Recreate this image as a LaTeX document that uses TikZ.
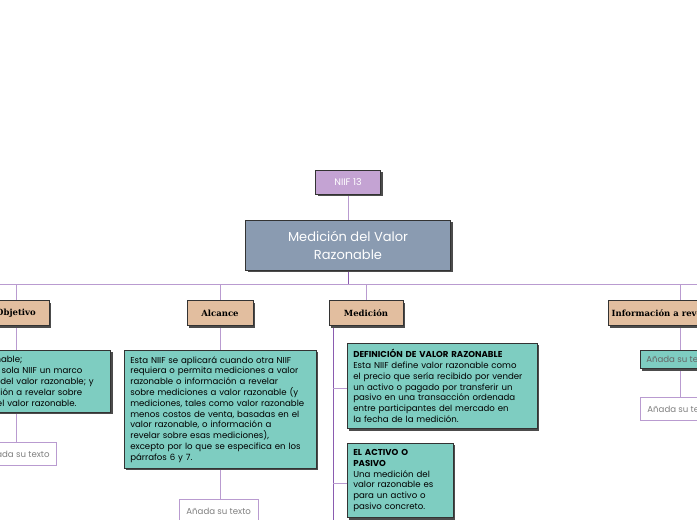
\documentclass[tikz,border=0pt]{standalone}
\usepackage{fontspec}
\setmainfont{Poppins}
\newfontfamily\headfont{DejaVu Serif}
\usetikzlibrary{shadows}
\definecolor{topic}{HTML}{C4A3D3}
\definecolor{central}{HTML}{8A9BB1}
\definecolor{mainbr}{HTML}{E2BE9F}
\definecolor{leaf}{HTML}{7ECDC1}
\definecolor{link}{HTML}{B99BD0}
\definecolor{linkdark}{HTML}{8A5BB0}
\begin{document}
\begin{tikzpicture}[x=1pt,y=-1pt,
  boxshadow/.style={draw=black!80,line width=0.6pt,drop shadow={shadow xshift=2pt,shadow yshift=-2pt,fill=black!70,opacity=1}},
  topicbox/.style={boxshadow,fill=topic,text=white,font=\fontsize{9.5}{11}\selectfont,minimum width=65pt,minimum height=24pt},
  centralbox/.style={boxshadow,fill=central,text=white,font=\fontsize{13}{18}\selectfont,minimum width=205pt,minimum height=50pt,align=center},
  branchbox/.style={boxshadow,fill=mainbr,font=\headfont\bfseries\fontsize{8.5}{9}\selectfont,minimum height=25pt,minimum width=66pt},
  leafbox/.style={boxshadow,fill=leaf,font=\fontsize{8.6}{10.8}\selectfont,align=left,anchor=north west,inner sep=6pt},
  emptybox/.style={draw=link,line width=0.8pt,fill=white,text=black!50,font=\fontsize{8.6}{10}\selectfont,minimum height=23pt,anchor=north west,inner xsep=7pt},
  conn/.style={draw=link,line width=0.6pt},
  conndark/.style={draw=linkdark,line width=0.9pt}
]
\useasboundingbox (0,0) rectangle (697,520);
\clip (0,0) rectangle (697,520);
% links
\draw[conndark] (348,270) -- (348,284);
\draw[conn] (-20,284) -- (720,284);
\draw[conn] (348,194) -- (348,220);
\draw[conn] (16,284) -- (16,455);
\draw[conn] (220,284) -- (220,510);
\draw[conn] (366,284) -- (366,300);
\draw[conn] (680,284) -- (680,410);
\draw[conndark] (333,325) -- (333,530);
\draw[conn] (333,388) -- (347,388);
\draw[conn] (333,483) -- (347,483);
% topic and centre
\node[topicbox] (niif) at (348,182) {NIIF 13};
\node[centralbox] (central) at (348,245) {Medición del Valor\\Razonable};
% branches
\node[branchbox] (objetivo) at (16,313) {Objetivo};
\node[branchbox] (alcance) at (220,313) {Alcance};
\node[branchbox,minimum width=74pt] (medicion) at (366,313) {Medición};
\node[branchbox,anchor=west] (informacion) at (608,313) {Información a revelar};
% leaves
\node[leafbox,text width=182pt,anchor=north east] (objtext) at (111,350) {Define valor razonable;\\establece en una sola NIIF un marco\\para la medición del valor razonable; y\\requiere información a revelar sobre\\las mediciones del valor razonable.};
\node[emptybox,anchor=north east] (objadd) at (57,442) {Añada su texto};
\node[leafbox,text width=180pt] (alctext) at (124,350) {Esta NIIF se aplicará cuando otra NIIF\\requiera o permita mediciones a valor\\razonable o información a revelar\\sobre mediciones a valor razonable (y\\mediciones, tales como valor razonable\\menos costos de venta, basadas en el\\valor razonable, o información a\\revelar sobre esas mediciones),\\excepto por lo que se especifica en los\\párrafos 6 y 7.};
\node[emptybox] (alcadd) at (179,499) {Añada su texto};
\node[leafbox,text width=178pt] (definicion) at (347,343) {\textbf{DEFINICIÓN DE VALOR RAZONABLE}\\Esta NIIF define valor razonable como\\el precio que sería recibido por vender\\un activo o pagado por transferir un\\pasivo en una transacción ordenada\\entre participantes del mercado en\\la fecha de la medición.};
\node[leafbox,text width=94pt] (activo) at (347,443) {\textbf{EL ACTIVO O}\\\textbf{PASIVO}\\Una medición del\\valor razonable es\\para un activo o\\pasivo concreto.\\};
\node[leafbox,text=black!60,inner sep=6pt] (infadd) at (640,350) {Añada su texto};
\node[emptybox] (infadd2) at (640,397) {Añada su texto};
\end{tikzpicture}
\end{document}
